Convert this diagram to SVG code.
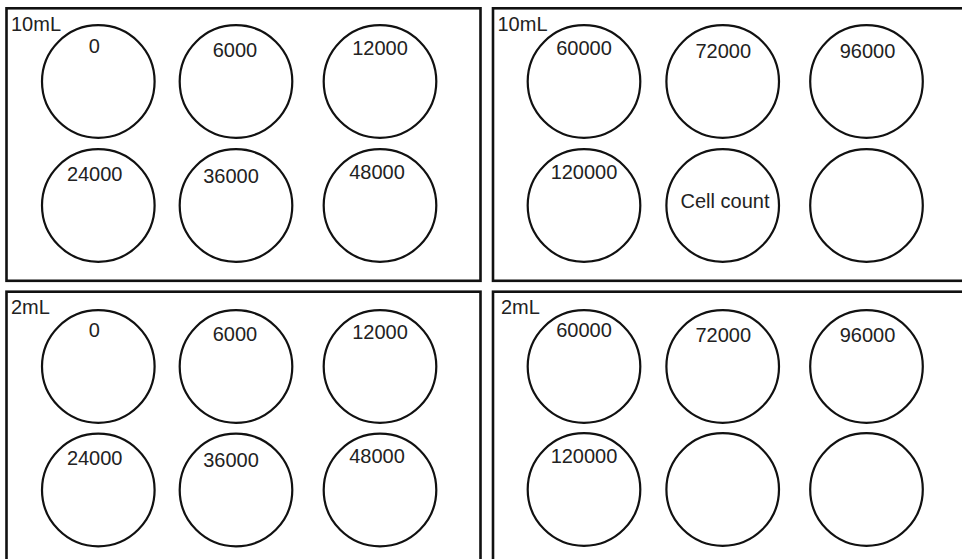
<svg xmlns="http://www.w3.org/2000/svg" width="962" height="559" viewBox="0 0 962 559">
<style>
.panel{fill:#fff;stroke:#111;stroke-width:2.6}
.well{fill:#fff;stroke:#111;stroke-width:2.2}
text{font-family:"Liberation Sans",Arial,sans-serif;font-size:20px;fill:#222}
.c{text-anchor:middle}
</style>
<rect width="962" height="559" fill="#fff"/>
<g id="plate-10mL-a">
<rect class="panel" x="6.5" y="8.3" width="474" height="272.5"/>
<text x="11" y="30.5">10mL</text>
<g id="w-a1"><circle class="well" cx="98.3" cy="81.5" r="56.3"/><text class="c" x="94.3" y="52.5">0</text></g>
<g id="w-a2"><circle class="well" cx="236" cy="81.5" r="56.3"/><text class="c" x="235" y="57">6000</text></g>
<g id="w-a3"><circle class="well" cx="380" cy="81.5" r="56.3"/><text class="c" x="380" y="55">12000</text></g>
<g id="w-a4"><circle class="well" cx="98.3" cy="205.5" r="56.3"/><text class="c" x="94.7" y="181">24000</text></g>
<g id="w-a5"><circle class="well" cx="236" cy="205.5" r="56.3"/><text class="c" x="231" y="183">36000</text></g>
<g id="w-a6"><circle class="well" cx="380" cy="205.5" r="56.3"/><text class="c" x="377" y="179">48000</text></g>
</g>
<g id="plate-10mL-b">
<rect class="panel" x="493" y="8.3" width="480" height="272.5"/>
<text x="497.5" y="31">10mL</text>
<g id="w-b1"><circle class="well" cx="584" cy="81.5" r="56.3"/><text class="c" x="584" y="55">60000</text></g>
<g id="w-b2"><circle class="well" cx="722.7" cy="81.5" r="56.3"/><text class="c" x="723.3" y="57.7">72000</text></g>
<g id="w-b3"><circle class="well" cx="866.5" cy="81.5" r="56.3"/><text class="c" x="867.5" y="57.7">96000</text></g>
<g id="w-b4"><circle class="well" cx="584" cy="205.5" r="56.3"/><text class="c" x="584" y="179.3">120000</text></g>
<g id="w-b5"><circle class="well" cx="722.7" cy="205.5" r="56.3"/><text class="c" x="725" y="208">Cell count</text></g>
<g id="w-b6"><circle class="well" cx="866.5" cy="205.5" r="56.3"/></g>
</g>
<g id="plate-2mL-a">
<rect class="panel" x="6.5" y="291.7" width="474" height="280"/>
<text x="11" y="314">2mL</text>
<g id="w-c1"><circle class="well" cx="98.3" cy="366.5" r="56.3"/><text class="c" x="94.3" y="336.5">0</text></g>
<g id="w-c2"><circle class="well" cx="236" cy="366.5" r="56.3"/><text class="c" x="235" y="341">6000</text></g>
<g id="w-c3"><circle class="well" cx="380" cy="366.5" r="56.3"/><text class="c" x="380" y="339">12000</text></g>
<g id="w-c4"><circle class="well" cx="98.3" cy="490" r="56.3"/><text class="c" x="94.7" y="465">24000</text></g>
<g id="w-c5"><circle class="well" cx="236" cy="490" r="56.3"/><text class="c" x="231" y="467">36000</text></g>
<g id="w-c6"><circle class="well" cx="380" cy="490" r="56.3"/><text class="c" x="377" y="463">48000</text></g>
</g>
<g id="plate-2mL-b">
<rect class="panel" x="493" y="291.7" width="480" height="280"/>
<text x="501" y="314.3">2mL</text>
<g id="w-d1"><circle class="well" cx="584" cy="366.5" r="56.3"/><text class="c" x="584" y="336.7">60000</text></g>
<g id="w-d2"><circle class="well" cx="722.7" cy="366.5" r="56.3"/><text class="c" x="723.3" y="341.7">72000</text></g>
<g id="w-d3"><circle class="well" cx="866.5" cy="366.5" r="56.3"/><text class="c" x="867.5" y="341.7">96000</text></g>
<g id="w-d4"><circle class="well" cx="584" cy="489.5" r="56.3"/><text class="c" x="584" y="463.3">120000</text></g>
<g id="w-d5"><circle class="well" cx="722.7" cy="489.5" r="56.3"/></g>
<g id="w-d6"><circle class="well" cx="866.5" cy="489.5" r="56.3"/></g>
</g>
<g id="connectors"/>
</svg>
